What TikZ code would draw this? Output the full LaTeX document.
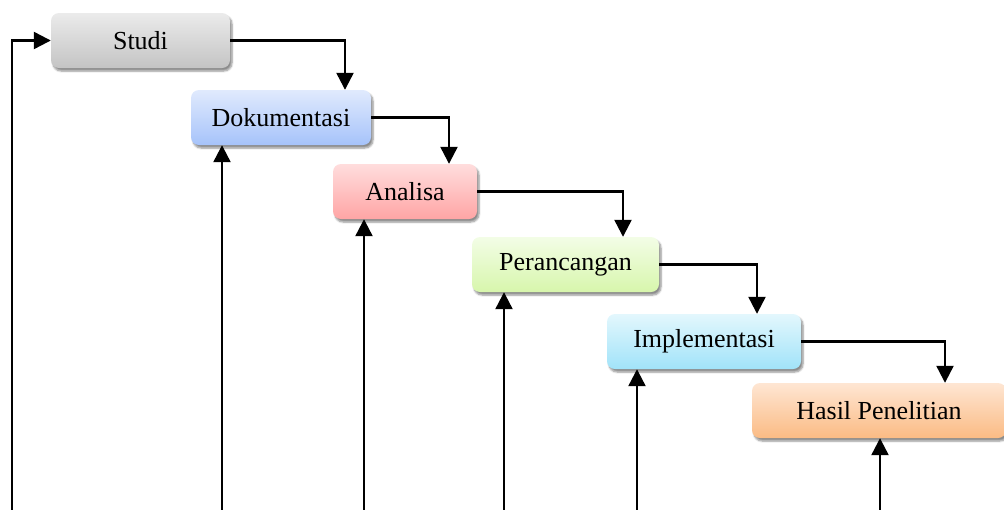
\documentclass[tikz,border=0pt]{standalone}
\usepackage{fontspec}
\setmainfont{Liberation Serif}
\usetikzlibrary{arrows.meta,shadows.blur}

\definecolor{grayT}{HTML}{EBEBEB}\definecolor{grayB}{HTML}{C4C4C4}
\definecolor{blueT}{HTML}{E0EAFD}\definecolor{blueB}{HTML}{A6C3FA}
\definecolor{redT}{HTML}{FFDDDD}\definecolor{redB}{HTML}{FFA5A5}
\definecolor{greenT}{HTML}{F3FDE6}\definecolor{greenB}{HTML}{D7F6AC}
\definecolor{cyanT}{HTML}{E3F7FD}\definecolor{cyanB}{HTML}{A1E3F9}
\definecolor{orangeT}{HTML}{FEE6D3}\definecolor{orangeB}{HTML}{FBBB84}

\tikzset{
  stage/.style={rounded corners=8pt, minimum height=55pt, inner sep=0pt,
    font=\fontsize{26}{29}\selectfont, text=black,
    blur shadow={shadow xshift=2pt, shadow yshift=-3pt, shadow blur steps=6, shadow opacity=45}},
  flow/.style={line width=2.3pt, -{Triangle[length=17pt,width=17pt]}},
}

\begin{document}
\begin{tikzpicture}[x=1pt,y=-1pt]
  \useasboundingbox (0,0) rectangle (1004,509);

  % process stages, top-left to bottom-right
  \node[stage, minimum width=179pt, top color=grayT, bottom color=grayB] (studi) at (140.5,40.5) {Studi};
  \node[stage, minimum width=180pt, top color=blueT, bottom color=blueB] (doku) at (281,117.5) {Dokumentasi};
  \node[stage, minimum width=144pt, top color=redT, bottom color=redB] (analisa) at (405,191.5) {Analisa};
  \node[stage, minimum width=187pt, top color=greenT, bottom color=greenB] (ranc) at (565.5,264.5) {Perancangan};
  \node[stage, minimum width=194pt, top color=cyanT, bottom color=cyanB] (impl) at (704,341.5) {Implementasi};
  \node[stage, minimum width=254pt, top color=orangeT, bottom color=orangeB] (hasil) at (879,410.5) {Hasil Penelitian};

  % forward steps
  \draw[flow] (studi.east) -| ([xshift=64pt]doku.north);
  \draw[flow] (doku.east) -| ([xshift=44pt]analisa.north);
  \draw[flow] (analisa.east) -| ([xshift=57.5pt]ranc.north);
  \draw[flow] (ranc.east) -| ([xshift=53pt]impl.north);
  \draw[flow] (impl.east) -| ([xshift=66pt]hasil.north);

  % feedback lines entering from below
  \coordinate (b0) at (12,512);
  \coordinate (b1) at (222,512);
  \coordinate (b2) at (364,512);
  \coordinate (b3) at (504,512);
  \coordinate (b4) at (637,512);
  \coordinate (b5) at (880,512);
  \draw[flow] (b0) |- (studi.west);
  \draw[flow] (b1) -- (b1 |- doku.south);
  \draw[flow] (b2) -- (b2 |- analisa.south);
  \draw[flow] (b3) -- (b3 |- ranc.south);
  \draw[flow] (b4) -- (b4 |- impl.south);
  \draw[flow] (b5) -- (b5 |- hasil.south);
\end{tikzpicture}
\end{document}
